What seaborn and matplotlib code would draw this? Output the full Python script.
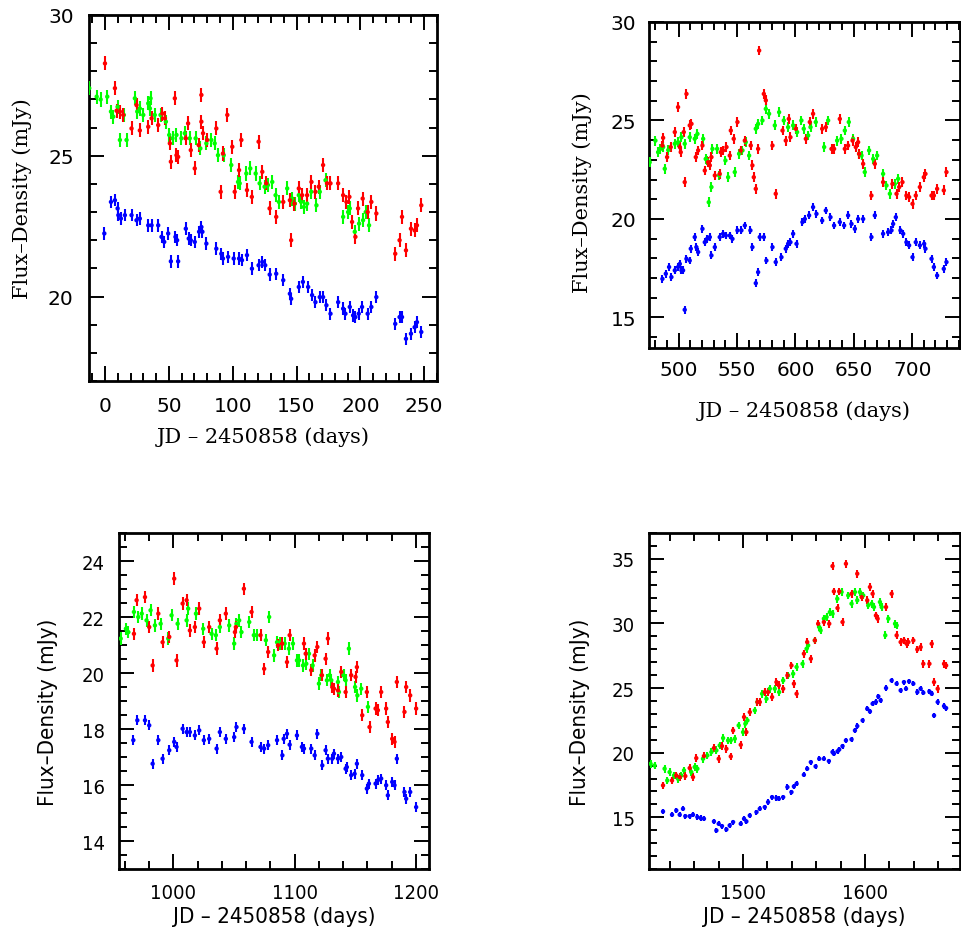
import numpy as np
import pandas as pd
import matplotlib
matplotlib.use("Agg")
import matplotlib.pyplot as plt
from matplotlib.ticker import MultipleLocator
import seaborn as sns

sns.set_style("ticks", {'text.color': 'black', 'axes.labelcolor': 'black',
                        'xtick.color': 'black', 'ytick.color': 'black', 'axes.edgecolor': 'black'})

# ---- panel 1 (days -12 .. 260) ----
p1_red = [(0, 28.28), (7.8, 27.4), (9.1, 26.6), (11.7, 26.57), (14.3, 26.45), (20.8, 25.97), (24.7, 26.8),
          (27.3, 25.9), (33.9, 26.03), (36.5, 26.33), (41.7, 26.09), (45, 26.5), (46.9, 26.33), (50.8, 25.44),
          (51.6, 24.79), (54.7, 27.04), (56, 25.02), (57.3, 24.96), (63.3, 25.62), (65.1, 26.15), (67.2, 25.2),
          (70.3, 24.55), (73.4, 25.38), (75.5, 27.16), (75.5, 26.21), (76.8, 25.8), (80, 25.56), (87.2, 25.97),
          (90.6, 23.72), (92.4, 25.08), (95.8, 26.45), (99.7, 25.32), (101.6, 23.72), (105, 24.49), (106.8, 25.56),
          (111.2, 23.78), (115, 23.54), (120.3, 25.5), (123.2, 24.43), (126.3, 24.02), (128.9, 23.13), (134.1, 22.83),
          (139.6, 23.36), (144.8, 23.42), (145.8, 22.0), (148.4, 23.3), (151.8, 23.84), (154.4, 23.6), (158.3, 23.6),
          (161.7, 24.07), (164.8, 23.72), (167.4, 23.9), (170.8, 24.67), (173.9, 24.02), (176.6, 24.02),
          (182.6, 24.02), (186.5, 23.6), (189.1, 23.36), (191.4, 23.54), (193.5, 22.65), (196.1, 22.12),
          (198.2, 23.13), (201.8, 23.48), (205.7, 23.0), (208.6, 23.36), (212.5, 22.95), (227.3, 21.52),
          (230.7, 22.0), (232.6, 22.83), (235.7, 21.64), (239.6, 22.41), (242.5, 22.35), (244.3, 22.53),
          (247.7, 23.24)]
p1_green = [(-12.3, 27.4), (-6.5, 27.1), (-3.4, 27.0), (1.8, 27.1), (4.7, 26.57), (6.5, 26.39), (9.9, 26.74),
            (11.7, 25.56), (14.8, 26.45), (16.9, 25.56), (23.4, 27.04), (25.3, 26.57), (27.3, 26.68), (30, 26.45),
            (33.9, 26.86), (35.2, 26.68), (35.7, 27.04), (39, 26.45), (43.5, 26.45), (47.7, 26.21), (50.3, 25.74),
            (52.9, 25.62), (56, 25.74), (59.9, 25.62), (62.5, 25.8), (66.4, 25.62), (71, 25.62), (74.7, 25.26),
            (79.4, 25.44), (83.3, 25.56), (85.9, 25.44), (88.5, 25.02), (93, 25.02), (98.9, 24.67), (104.2, 24.07),
            (105.5, 24.02), (110.7, 24.37), (113.8, 24.55), (118, 24.37), (121.1, 24.02), (125, 23.9),
            (127.6, 23.96), (131, 24.07), (133.6, 23.6), (136.2, 23.36), (142.7, 23.84), (146.6, 23.48),
            (148.7, 23.3), (151.8, 23.6), (153.6, 23.36), (155.7, 23.18), (158.3, 23.3), (161.5, 23.72),
            (165.6, 23.24), (168.2, 23.72), (172.7, 24.13), (186.5, 22.83), (190.4, 23.0), (191.7, 23.13),
            (195.6, 22.3), (199, 22.59), (202.1, 22.71), (204.2, 23.0), (206.8, 22.53)]
p1_blue = [(-0.5, 22.24), (4.7, 23.36), (7.8, 23.42), (9.9, 23.13), (10.5, 22.89), (12.5, 22.77), (15.6, 22.89),
           (20.8, 22.89), (24.7, 22.71), (27.3, 22.77), (33.9, 22.53), (36.5, 22.53), (41.7, 22.53), (44.3, 22.12),
           (46.4, 21.94), (49.5, 22.24), (51.6, 21.25), (55.2, 22.12), (56.5, 22.0), (57.3, 21.25), (63.3, 22.41),
           (65.6, 22.06), (67.2, 22.0), (70.3, 21.94), (73.7, 22.3), (75.5, 22.47), (76.3, 22.3), (79.4, 21.88),
           (87.2, 21.7), (91.1, 21.52), (92.4, 21.35), (96.4, 21.41), (100.8, 21.35), (105, 21.35), (107.3, 21.29),
           (111.2, 21.47), (115.1, 20.99), (120.3, 21.11), (123.2, 21.23), (125.5, 21.11), (129, 20.78),
           (134.1, 20.81), (139.6, 20.58), (144.8, 20.1), (145.8, 19.92), (151.8, 20.34), (155, 20.52),
           (159.1, 20.34), (162.2, 20.05), (164.8, 19.8), (168.2, 19.98), (170.8, 19.98), (173.4, 19.69),
           (176.6, 19.39), (182.6, 19.8), (186.5, 19.57), (188.3, 19.39), (191.7, 19.63), (194.3, 19.33),
           (196.1, 19.27), (198.7, 19.39), (201.3, 19.63), (205.7, 19.39), (208.6, 19.63), (212.5, 19.98),
           (227.3, 19.03), (230.7, 19.27), (232.6, 19.27), (235.7, 18.5), (239.6, 18.68), (242.5, 18.91),
           (244.3, 19.09), (247.7, 18.74)]

# ---- panel 2 (days 475 .. 740) ----
p2_red = [(486, 23.73), (486.6, 24.12), (490, 23.14), (493.1, 23.65), (496.6, 24.41), (499.4, 25.68), (500.9, 23.65),
          (501.7, 23.39), (504.3, 24.41), (505.1, 21.87), (506.6, 26.35), (509.4, 24.75), (510.9, 24.83),
          (514.6, 23.14), (516.6, 23.48), (520.3, 23.73), (522.3, 22.46), (525.1, 22.88), (526.6, 22.72),
          (528, 23.14), (530.9, 22.21), (535.1, 22.29), (536, 23.39), (538, 23.48), (540.9, 23.65), (543.7, 23.22),
          (544.6, 24.49), (547.1, 24.07), (550.3, 24.92), (553.1, 23.48), (556.6, 23.98), (561.7, 23.73),
          (563.1, 22.72), (564.3, 22.12), (566, 21.53), (568, 23.56), (568.9, 28.55), (572.9, 26.35),
          (574.6, 26.02), (580.3, 23.73), (583.1, 21.28), (588.9, 24.49), (591.7, 23.98), (594.3, 25.08),
          (595.7, 24.15), (600.3, 24.58), (608.9, 24.07), (612.3, 24.92), (615.1, 25.34), (622.9, 24.58),
          (626, 24.66), (630.9, 23.56), (633.1, 23.56), (638, 25.08), (642.3, 23.56), (645.1, 23.73),
          (648.9, 23.98), (651.7, 23.65), (653.7, 23.9), (654.5, 23.31), (658, 22.8), (665.1, 21.19), (668, 22.8),
          (675.1, 21.87), (683.1, 21.78), (686.6, 21.28), (688.9, 21.62), (691.7, 21.87), (695.1, 21.19),
          (697.4, 21.11), (700.3, 20.77), (703.1, 21.19), (706.6, 21.62), (710, 22.12), (711.4, 22.29),
          (716.6, 21.19), (718.6, 21.19), (721.4, 21.53), (727.1, 21.45), (729.4, 22.38)]
p2_green = [(475.1, 22.88), (480, 23.98), (482.3, 23.39), (484.3, 23.56), (486.6, 23.65), (488, 22.55), (491, 23.5),
            (496.6, 23.82), (499.4, 23.9), (502.3, 24.15), (505.1, 23.82), (509.4, 24.15), (513.7, 24.07),
            (516, 24.32), (520.9, 24.07), (523.1, 23.05), (524.3, 22.97), (525.7, 20.85), (528, 21.62),
            (528.9, 23.56), (532.9, 23.56), (534.6, 22.21), (540, 22.97), (542.3, 22.12), (548, 22.38),
            (551.7, 23.31), (554.6, 23.48), (557.4, 23.9), (560.3, 23.22), (566, 24.58), (568, 24.83), (571.7, 25.0),
            (574.6, 25.59), (577.4, 25.34), (582.3, 24.75), (586, 25.42), (590, 25.0), (593.7, 24.66), (598, 24.75),
            (601.4, 24.41), (605.1, 25.0), (607.1, 24.58), (610.9, 24.24), (612.9, 24.66), (617.4, 24.92),
            (624.6, 23.65), (628, 25.0), (635.7, 23.98), (639.4, 24.07), (642.3, 24.49), (645.7, 24.92),
            (649.4, 24.07), (654.6, 23.31), (656.6, 23.22), (659.4, 22.38), (663.1, 23.48), (666.6, 23.05),
            (670, 23.22), (675.1, 22.29), (678, 21.7), (680.9, 21.28), (685.1, 21.78), (688, 22.04)]
p2_blue = [(486, 16.96), (488.9, 17.22), (491.7, 17.56), (493.7, 17.05), (496.6, 17.39), (499.4, 17.56),
           (500.9, 17.72), (502.3, 17.39), (503.7, 17.39), (505.1, 15.39), (506.6, 17.98), (509.4, 17.89),
           (510.3, 18.49), (513.7, 19.08), (515.1, 18.57), (516.6, 18.32), (520.3, 19.5), (522.3, 18.82),
           (524.3, 18.99), (526.6, 19.08), (528, 18.15), (530.9, 18.57), (535.1, 19.08), (538, 19.25),
           (540.3, 19.16), (543.7, 19.16), (546, 18.99), (550.3, 19.42), (553.7, 19.42), (556.6, 19.67),
           (561.4, 19.42), (563.1, 18.57), (566, 16.74), (568, 17.3), (569.4, 19.08), (572.9, 19.08), (575.1, 17.89),
           (580.3, 18.57), (583.1, 17.81), (588, 18.06), (591.7, 18.49), (593.7, 18.74), (595.7, 18.82), (598, 19.25),
           (600.9, 18.74), (606, 19.84), (608, 20.0), (611.7, 20.18), (615.1, 20.6), (618, 20.26), (622.9, 19.92),
           (626, 20.43), (630, 20.09), (633.1, 19.67), (638, 19.84), (641.7, 19.67), (645.1, 20.18), (648, 19.75),
           (650.9, 19.5), (653.7, 20.0), (658, 20.0), (665.1, 19.08), (668, 20.18), (675.1, 19.25), (679.4, 19.33),
           (682.3, 19.42), (683.7, 19.75), (686, 20.09), (690, 19.42), (692.3, 19.25), (695.1, 18.82),
           (697.4, 18.66), (700.3, 18.06), (703.1, 18.82), (706.6, 18.66), (710.3, 18.74), (711.4, 18.49),
           (716.6, 17.98), (718.6, 17.56), (721.4, 17.13), (727.1, 17.47), (729.4, 17.81)]

# ---- panel 3 (days 955 .. 1210) ----
p3_red = [(967.6, 21.4), (969.8, 22.6), (976.7, 22.71), (980.2, 21.64), (983, 20.27), (987.7, 22.12), (991.2, 21.1),
          (996.7, 21.29), (1000.8, 23.37), (1002.7, 20.45), (1007.7, 22.48), (1011, 22.6), (1013.7, 21.52),
          (1017.8, 21.64), (1021.4, 22.3), (1025.2, 21.1), (1029.6, 21.64), (1035.7, 20.87), (1038.4, 21.88),
          (1043.3, 22.12), (1050.8, 21.46), (1051.6, 21.64), (1058.2, 23.01), (1064.5, 22.18), (1071.9, 21.35),
          (1074.9, 20.15), (1078.2, 20.75), (1086.3, 20.99), (1089.7, 21.05), (1093.7, 20.39), (1095.9, 21.35),
          (1107.7, 21.05), (1109.1, 20.69), (1113.7, 20.1), (1116.5, 20.63), (1118.7, 20.93), (1122.5, 19.92),
          (1125.5, 20.51), (1127.4, 21.23), (1131, 19.5), (1132.4, 19.44), (1135.7, 19.38), (1138.4, 20.04),
          (1142, 19.32), (1146.6, 19.92), (1150.2, 19.86), (1151.3, 20.21), (1155.7, 18.49), (1159.5, 19.32),
          (1161.7, 18.07), (1166.7, 18.73), (1168.6, 18.67), (1171.3, 19.32), (1175.4, 18.73), (1176.8, 18.25),
          (1180.4, 17.65), (1182.3, 17.54), (1184.2, 19.68), (1190.5, 18.61), (1191.9, 19.5), (1195.2, 19.2),
          (1200.1, 18.73)]
p3_green = [(956.7, 21.23), (961, 21.58), (963, 21.46), (967.6, 22.18), (971.2, 22.0), (974, 22.12), (978, 21.88),
            (981.3, 22.24), (984.9, 21.7), (989.6, 21.76), (995.9, 21.23), (998.6, 22.06), (1003.6, 21.76),
            (1011, 21.88), (1012.3, 22.3), (1018.7, 22.12), (1024.7, 21.58), (1031.6, 21.4), (1035.1, 21.35),
            (1038.4, 21.64), (1046.1, 21.7), (1050.2, 21.05), (1052.1, 21.76), (1054.3, 21.88), (1056.2, 21.46),
            (1062.6, 21.82), (1066.4, 21.35), (1068.6, 21.35), (1076.3, 21.17), (1079, 22.0), (1083.1, 20.63),
            (1085.5, 21.1), (1087.7, 21.05), (1091.8, 21.05), (1095.3, 20.87), (1098.6, 21.05), (1101.9, 20.45),
            (1103.6, 20.45), (1106.9, 20.27), (1109.6, 20.33), (1111.8, 20.69), (1114.8, 20.27), (1120, 19.62),
            (1122, 19.92), (1126.6, 19.74), (1128.8, 19.92), (1130.2, 19.74), (1135.7, 19.68), (1136.5, 19.32),
            (1140.3, 19.92), (1142, 19.74), (1144.7, 20.87), (1149.8, 19.5), (1151.7, 19.2), (1154.9, 19.44),
            (1160.4, 18.79)]
p3_blue = [(967.1, 17.6), (970.4, 18.31), (976.7, 18.31), (980.2, 18.13), (983, 16.76), (987.7, 17.6), (991.2, 16.94),
           (996.7, 17.24), (1000.8, 17.54), (1002.7, 17.36), (1007.7, 18.01), (1011, 17.89), (1013.7, 17.89),
           (1017.8, 17.77), (1021.4, 17.95), (1025.2, 17.6), (1029.6, 17.65), (1035.7, 17.3), (1038.4, 17.89),
           (1043.3, 17.65), (1050.2, 17.71), (1052.1, 18.07), (1058.2, 18.01), (1064.5, 17.54), (1071.9, 17.36),
           (1074.9, 17.3), (1078.2, 17.42), (1085.5, 17.6), (1089.9, 17.06), (1091, 17.65), (1093.7, 17.83),
           (1095.9, 17.44), (1101.9, 17.77), (1106, 17.36), (1107.7, 17.3), (1113.7, 17.3), (1116.5, 17.06),
           (1118.7, 17.83), (1122.8, 16.7), (1125.5, 17.24), (1127.4, 16.94), (1131, 16.94), (1132.4, 17.12),
           (1135.7, 16.94), (1138.4, 17.0), (1142, 16.58), (1143, 16.64), (1146.6, 16.35), (1149.4, 16.4),
           (1151.3, 16.76), (1155.7, 16.35), (1159.5, 15.87), (1161.2, 16.05), (1166.7, 16.05), (1168.6, 16.17),
           (1171.3, 16.23), (1175.4, 15.99), (1176.8, 15.63), (1180.4, 16.11), (1182.3, 15.99), (1184.2, 16.94),
           (1190.5, 15.75), (1191.9, 15.51), (1195.2, 15.75), (1200.1, 15.21)]

# ---- panel 4 (days 1423 .. 1678) ----
p4_red = [(1434.3, 17.47), (1441.7, 17.85), (1445.2, 18.24), (1448, 18.11), (1452.6, 18.19), (1456.2, 18.81),
          (1458.9, 18.11), (1461.6, 19.58), (1467.9, 19.74), (1476.1, 20.36), (1480, 19.53), (1482.7, 20.51),
          (1486.3, 20.3), (1489.9, 19.71), (1491.8, 21.72), (1498.1, 20.61), (1500.8, 22.76), (1502.7, 21.59),
          (1505.5, 23.14), (1511.8, 23.92), (1513.7, 23.92), (1517.8, 24.69), (1520.5, 24.69), (1523.8, 24.3),
          (1527.4, 25.46), (1529.3, 25.21), (1532.9, 24.95), (1536.4, 25.98), (1539.7, 26.75), (1541.7, 25.34),
          (1543.9, 24.56), (1549.9, 27.66), (1552.6, 28.56), (1555.6, 27.27), (1558.9, 28.69), (1561.6, 29.98),
          (1566.3, 30.11), (1570.7, 29.98), (1573.4, 34.44), (1574.5, 32.48), (1577.5, 31.19), (1578.9, 32.48),
          (1581.6, 30.11), (1584.4, 34.62), (1589, 32.3), (1593.7, 33.85), (1597.3, 32.04), (1601.9, 31.79),
          (1604.1, 32.82), (1606.3, 32.3), (1609, 30.62), (1610.4, 30.37), (1617.3, 31.27), (1621.9, 32.3),
          (1626, 29.08), (1629.3, 28.56), (1632, 28.69), (1634.2, 28.43), (1635.6, 28.56), (1639.7, 28.69),
          (1643, 27.99), (1645.7, 28.17), (1647.9, 26.88), (1652.9, 26.88), (1654.8, 28.43), (1656.7, 25.46),
          (1659.7, 24.95), (1664.9, 26.88), (1666.6, 26.75)]
p4_green = [(1424.1, 19.14), (1427.4, 19.01), (1435.6, 18.76), (1437.8, 17.85), (1439.7, 18.5), (1443.3, 18.24),
            (1446.6, 17.98), (1449.3, 18.24), (1451.5, 18.63), (1457.5, 18.5), (1460.3, 18.89), (1462.5, 18.76),
            (1467.1, 19.53), (1470.7, 19.79), (1474, 20.05), (1478.1, 20.18), (1480.8, 20.56), (1483.6, 21.13),
            (1487.7, 20.95), (1489.9, 20.95), (1493.2, 21.08), (1496.4, 22.11), (1500, 21.59), (1501.9, 22.24),
            (1503.6, 22.5), (1509.6, 23.27), (1511.8, 23.92), (1515.6, 24.56), (1519.2, 24.17), (1521.9, 24.95),
            (1526, 24.95), (1529.6, 24.69), (1532.9, 25.59), (1537, 25.98), (1541.1, 26.11), (1543.9, 26.63),
            (1548.8, 26.88), (1552.1, 28.04), (1553.4, 28.3), (1558.9, 28.69), (1562.5, 29.72), (1563.6, 29.46),
            (1566.3, 30.37), (1568.5, 30.5), (1571.2, 30.88), (1573.4, 30.75), (1577.3, 31.91), (1580.8, 32.43),
            (1586.3, 32.17), (1589, 31.53), (1591.8, 32.43), (1593.7, 31.79), (1595.9, 32.43), (1598.6, 32.17),
            (1602.7, 31.4), (1605.5, 31.53), (1607.4, 31.27), (1612.3, 31.66), (1613.7, 31.27), (1616.7, 29.08),
            (1619.2, 30.37), (1624.7, 29.98), (1626, 29.85)]
p4_blue = [(1434.3, 15.45), (1441.7, 15.2), (1445.2, 15.53), (1448, 15.2), (1450.7, 15.66), (1452.6, 15.09),
           (1456.2, 15.09), (1458.9, 15.2), (1462.5, 15.02), (1465.2, 14.94), (1467.9, 14.89), (1476.1, 14.68),
           (1478.1, 13.98), (1480, 14.5), (1482.7, 14.32), (1486.3, 14.06), (1489, 14.37), (1491.8, 14.63),
           (1498.1, 14.5), (1500.8, 14.89), (1502.7, 14.68), (1505.5, 15.14), (1511, 15.4), (1513.7, 15.66),
           (1517.8, 15.79), (1520.5, 16.18), (1523.8, 16.56), (1527.4, 16.49), (1529.3, 16.43), (1532.9, 16.56),
           (1536.4, 17.34), (1539.7, 16.95), (1541.7, 17.39), (1543.9, 17.6), (1549.9, 18.29), (1552.6, 18.76),
           (1555.6, 19.27), (1559.5, 18.94), (1562.5, 19.53), (1566.3, 19.53), (1570.4, 19.35), (1573.4, 20.05),
           (1574.5, 19.92), (1577.5, 20.1), (1578.9, 20.25), (1581.6, 20.51), (1584.4, 20.95), (1589, 21.03),
           (1591.8, 21.72), (1593.7, 22.06), (1598.1, 22.5), (1601.9, 23.4), (1604.1, 23.19), (1606.3, 23.79),
           (1609, 23.92), (1611, 24.35), (1612.9, 24.05), (1617.3, 25.0), (1621.9, 25.59), (1626, 25.34),
           (1629.3, 24.82), (1632, 25.46), (1633.7, 24.95), (1636.2, 25.52), (1639.7, 25.34), (1643, 24.69),
           (1645.7, 24.95), (1647.9, 24.64), (1652.9, 24.74), (1654.8, 24.56), (1656.7, 22.88), (1659.7, 23.92),
           (1664.9, 23.61), (1666.6, 23.45)]

# typical 1-sigma error bars (mJy) per panel: red, green, blue
p1_err = [0.25, 0.25, 0.22]
p2_err = [0.25, 0.25, 0.2]
p3_err = [0.22, 0.22, 0.18]
p4_err = [0.3, 0.3, 0.2]

colors = {'red': '#ff0000', 'green': '#00ff00', 'blue': '#0000ff'}

XLABEL = 'JD \u2013 2450858 (days)'
YLABEL = 'Flux\u2013Density (mJy)'

top_tick_font = dict(family=['DejaVu Sans'], size=14.5)
top_label_font = dict(family=['DejaVu Serif'], size=15)
narrow = dict(family=['DejaVu Sans Condensed', 'Liberation Sans Narrow', 'DejaVu Sans'], stretch='condensed')
bot_tick_font = dict(narrow, size=14.5)
bot_label_font = dict(narrow, size=16)


def to_frame(red, green, blue, err):
    parts = []
    for band, pts, e in (('blue', blue, err[2]), ('green', green, err[1]), ('red', red, err[0])):
        d = pd.DataFrame(pts, columns=['t', 'flux'])
        d['band'] = band
        d['err'] = e
        parts.append(d)
    return pd.concat(parts, ignore_index=True)


def draw_panel(ax, df, xlim, ylim, xmaj, xmin, ymaj, ymin, tick_font, label_font, xlab_y, ylab_x, ylab_y, tpad):
    for band, d in df.groupby('band', sort=False):
        ax.errorbar(d['t'], d['flux'], yerr=d['err'], fmt='none', ecolor=colors[band],
                    elinewidth=1.5, capsize=0, zorder=3)
    sns.scatterplot(data=df, x='t', y='flux', hue='band', palette=colors, s=10, linewidth=0,
                    legend=False, ax=ax, zorder=4)
    ax.set_xlim(*xlim)
    ax.set_ylim(*ylim)
    ax.xaxis.set_major_locator(MultipleLocator(xmaj))
    ax.xaxis.set_minor_locator(MultipleLocator(xmin))
    ax.yaxis.set_major_locator(MultipleLocator(ymaj))
    ax.yaxis.set_minor_locator(MultipleLocator(ymin))
    ax.tick_params(which='both', direction='in', top=True, right=True, width=1.4, color='black',
                   labelcolor='black')
    ax.tick_params(which='major', length=11, pad=tpad)
    ax.tick_params(which='minor', length=5.5)
    for lab in ax.get_xticklabels() + ax.get_yticklabels():
        lab.set_fontproperties(matplotlib.font_manager.FontProperties(**tick_font))
        lab.set_color('black')
    for s in ax.spines.values():
        s.set_linewidth(2)
        s.set_color('black')
    ax.set_xlabel(XLABEL, color='black', **label_font)
    ax.set_ylabel(YLABEL, color='black', **label_font)
    ax.xaxis.set_label_coords(0.5, xlab_y)
    ax.yaxis.set_label_coords(ylab_x, ylab_y)
    ax.grid(False)


fig = plt.figure(figsize=(9.62, 9.37), dpi=100)
W, H = 962.0, 937.0


def add_ax(l, t, r, b):
    return fig.add_axes([l / W, 1 - b / H, (r - l) / W, (b - t) / H])


ax1 = add_ax(89, 16, 437, 382)
ax2 = add_ax(649, 23, 960, 349)
ax3 = add_ax(119, 534, 429, 870)
ax4 = add_ax(649, 534, 960, 870)

draw_panel(ax1, to_frame(p1_red, p1_green, p1_blue, p1_err), (-12.5, 260), (17, 30), 50, 10, 5, 1,
           top_tick_font, top_label_font, -0.125, -0.165, 0.5, 11)
draw_panel(ax2, to_frame(p2_red, p2_green, p2_blue, p2_err), (474.5, 741), (13.45, 30), 50, 10, 5, 1,
           top_tick_font, top_label_font, -0.16, -0.183, 0.48, 9)
draw_panel(ax3, to_frame(p3_red, p3_green, p3_blue, p3_err), (955.3, 1210.7), (13, 25), 100, 20, 2, 0.5,
           bot_tick_font, bot_label_font, -0.11, -0.197, 0.47, 10)
draw_panel(ax4, to_frame(p4_red, p4_green, p4_blue, p4_err), (1422.8, 1678), (11, 37), 100, 20, 5, 1,
           bot_tick_font, bot_label_font, -0.11, -0.19, 0.47, 10)

fig.savefig('out.png', dpi=100, facecolor='white')
